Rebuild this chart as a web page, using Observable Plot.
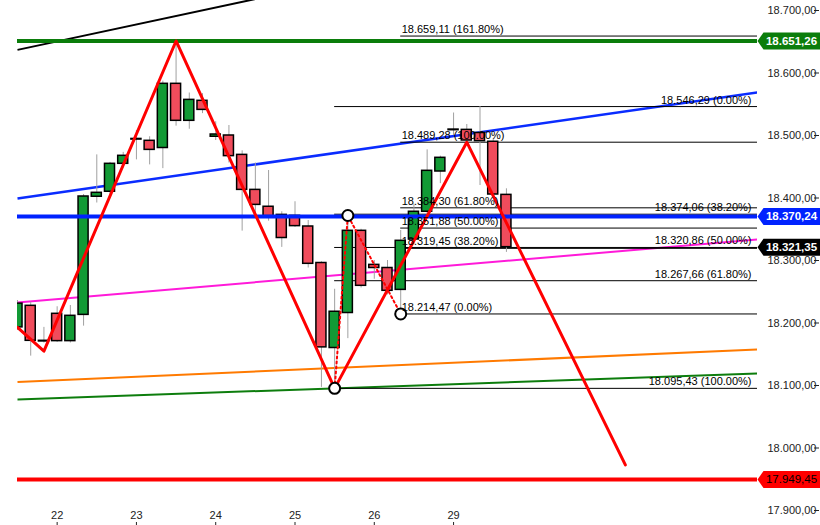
<!DOCTYPE html>
<html>
<head>
<meta charset="utf-8">
<script src="https://cdn.jsdelivr.net/npm/d3@7"></script>
<script src="https://cdn.jsdelivr.net/npm/@observablehq/plot@0.6"></script>
<style>
  html, body { margin: 0; padding: 0; background: #fff; }
  #chart { width: 820px; height: 525px; }
</style>
</head>
<body>
<div id="chart"></div>
<script>
// ---- candle data (4h candles, index-based) ----
const open  = [18193, 18227.5, 18171.5, 18214.7, 18171, 18213, 18402, 18410, 18454.7, 18493.5,
               18491.5, 18480, 18582.7, 18523.5, 18555.5, 18498, 18500, 18469, 18413, 18386,
               18373, 18371.5, 18354.4, 18296, 18160, 18216, 18347.5, 18293, 18288, 18253,
               18333.6, 18378, 18442.4, 18508.5, 18509, 18504, 18490, 18405];
const high  = [18236, 18233, 18193, 18226, 18228, 18405.6, 18469, 18457, 18473, 18508,
               18498, 18587, 18651.26, 18568, 18567, 18522, 18516, 18475.5, 18456, 18444,
               18378, 18394, 18364, 18298, 18254, 18372, 18350, 18300, 18300, 18348,
               18390, 18477, 18467, 18536, 18517.6, 18546.29, 18495, 18414.7];
const low   = [18188, 18147, 18168, 18169, 18168, 18195, 18392, 18406, 18448, 18461,
               18453, 18447, 18515, 18510, 18535, 18492, 18456, 18347, 18370, 18363,
               18321, 18353, 18288, 18097, 18095.43, 18175, 18256, 18270, 18245, 18214.47,
               18325, 18370, 18423, 18500, 18489.28, 18420, 18400, 18313];
const close = [18231, 18171.5, 18170.5, 18171, 18211.5, 18402.4, 18408.3, 18454.7, 18467.5, 18494.5,
               18477, 18582.7, 18523.5, 18557, 18541, 18501.6, 18467, 18413, 18389, 18371,
               18336, 18355, 18294.7, 18161, 18218, 18347.5, 18259.5, 18288, 18251.5, 18331.5,
               18378, 18443.5, 18464.3, 18509.5, 18492, 18491, 18405.6, 18321.35];

// ---- axes ----
const dayIdx = [3, 9, 15, 21, 27, 33];
const dayLabels = ["22", "23", "24", "25", "26", "29"];
const yTicks = [17900, 18000, 18100, 18200, 18300, 18400, 18500, 18600, 18700];
const xMax = 56;

// ---- zigzag ----
const zigIdx = [0, 2, 12, 24, 34, 46];
const zigVal = [18193, 18155, 18651.26, 18095.43, 18489.28, 17973];

// ---- ABC pattern (dotted + circles) ----
const abcIdx = [24, 25, 29];
const abcVal = [18095.43, 18372, 18214.47];

// ---- trend lines (value at left edge, value at right edge) ----
const trendColors = ["#000000", "#0a2cff", "#ff1ad9", "#ff7a00", "#0d7d0d"];
const trendStart  = [18637, 18399.2, 18232.8, 18105.6, 18077.6];
const trendEnd    = [18890, 18568.8, 18333.6, 18157.8, 18119.2];
const trendWidth  = [2, 2.5, 2, 2, 2];

// ---- horizontal levels ----
const levelValues = [18651.26, 18370.24, 17949.45];
const levelColors = ["#0b7d0b", "#0022ff", "#ff0000"];

// ---- price tags on the right ----
const tagValues = [18651.26, 18370.24, 18321.35, 17949.45];
const tagFills  = ["#0b7d0b", "#0022ff", "#000000", "#ff0000"];
const tagText   = ["#ffffff", "#ffffff", "#ffffff", "#000000"];

// ---- fibonacci ----
const leftFibStart = 29;
const leftFibValues = [18214.47, 18319.45, 18351.88, 18384.30, 18489.28, 18659.11];
const leftFibPcts   = [0, 38.2, 50, 61.8, 100, 161.8];
const rightFibStart = 24;
const rightFibValues = [18546.29, 18374.06, 18320.86, 18267.66, 18095.43];
const rightFibPcts   = [0, 38.2, 50, 61.8, 100];

const fmt = d3.formatLocale({decimal: ",", thousands: ".", grouping: [3], currency: ["", ""]}).format(",.2f");

const candles = open.map((o, i) => ({i, o, h: high[i], l: low[i], c: close[i]}));
const zig = zigIdx.map((x, k) => ({x, v: zigVal[k]}));
const abc = abcIdx.map((x, k) => ({x, v: abcVal[k]}));
const trends = trendColors.map((c, k) => ({c, a: trendStart[k], b: trendEnd[k], w: trendWidth[k]}));
const leftFib = leftFibValues.map((v, k) => ({v, t: `${fmt(v)} (${leftFibPcts[k].toFixed(2)}%)`}));
const rightFib = rightFibValues.map((v, k) => ({v, t: `${fmt(v)} (${rightFibPcts[k].toFixed(2)}%)`}));

const half = 0.38;
const greenBody = "#129a35", redBody = "#f04c5c";

const tagShape = {
  draw(ctx) {
    ctx.moveTo(0, 0);
    ctx.lineTo(6, -8.5);
    ctx.lineTo(64, -8.5);
    ctx.lineTo(64, 8.5);
    ctx.lineTo(6, 8.5);
    ctx.closePath();
  }
};

const marks = [];

// trend lines
trends.forEach(t => {
  marks.push(Plot.link([t], {x1: () => 0, x2: () => xMax, y1: "a", y2: "b", stroke: t.c, strokeWidth: t.w, clip: true}));
});

// fib lines
marks.push(Plot.ruleY(leftFib, {y: "v", x1: () => leftFibStart, x2: () => xMax, stroke: "#000", strokeWidth: 1}));
marks.push(Plot.ruleY(rightFib, {y: "v", x1: () => rightFibStart, x2: () => xMax, stroke: "#000", strokeWidth: 1}));

// wicks
marks.push(Plot.ruleX(candles, {x: "i", y1: "l", y2: "h", stroke: "#a0a0a0", strokeWidth: 1, clip: true}));
// bodies
marks.push(Plot.rect(candles, {
  x1: d => d.i - half, x2: d => d.i + half, y1: "o", y2: "c",
  fill: d => d.c >= d.o ? greenBody : redBody, stroke: "#000", strokeWidth: 1.5, clip: true
}));

// horizontal levels
levelValues.forEach((v, k) => {
  marks.push(Plot.ruleY([v], {stroke: levelColors[k], strokeWidth: 4}));
});

// zigzag
marks.push(Plot.line(zig, {x: "x", y: "v", stroke: "#ff0000", strokeWidth: 3, clip: true}));
// ABC dotted
marks.push(Plot.line(abc, {x: "x", y: "v", stroke: "#ff0000", strokeWidth: 2, strokeDasharray: "2,3"}));
marks.push(Plot.dot(abc, {x: "x", y: "v", r: 5.5, stroke: "#000", strokeWidth: 2, fill: "#fff"}));

// fib labels
marks.push(Plot.text(leftFib, {x: () => leftFibStart, y: "v", text: "t", textAnchor: "start", lineAnchor: "bottom", dx: 1, dy: -3, fill: "#000", fontSize: 11}));
marks.push(Plot.text(rightFib, {x: () => xMax, y: "v", text: "t", textAnchor: "end", lineAnchor: "bottom", dx: -6, dy: -3, fill: "#000", fontSize: 11}));

// axes
marks.push(Plot.axisY({anchor: "right", ticks: yTicks, tickSize: 0, tickPadding: 10, tickFormat: fmt, fontSize: 11, label: null}));
marks.push(Plot.axisY({anchor: "right", ticks: yTicks, tickSize: 5, tickFormat: () => "", dx: 56, label: null}));
marks.push(Plot.axisX({anchor: "bottom", ticks: dayIdx, tickSize: 0, tickPadding: 1, tickFormat: d => dayLabels[dayIdx.indexOf(d)], fontSize: 11, label: null}));
marks.push(Plot.axisX({anchor: "bottom", ticks: dayIdx, tickSize: 3, tickFormat: () => "", dy: 12, label: null}));

// price tags
tagValues.forEach((v, k) => {
  marks.push(Plot.dot([v], {x: () => xMax, y: d => d, symbol: tagShape, r: 5, fill: tagFills[k], stroke: null}));
  marks.push(Plot.text([v], {x: () => xMax, y: d => d, text: d => fmt(d), dx: 34, textAnchor: "middle", fill: tagText[k], fontSize: 11.5, fontWeight: k === 3 ? "normal" : "bold"}));
});

const chart = Plot.plot({
  width: 820,
  height: 525,
  marginLeft: 17,
  marginRight: 63,
  marginTop: 0,
  marginBottom: 15,
  x: {domain: [0, xMax], axis: null},
  y: {domain: [17900, 18716], axis: null},
  style: {fontFamily: "'Liberation Sans', Arial, sans-serif", fontSize: "11px", background: "#fff", color: "#222", overflow: "visible"},
  marks
});
document.getElementById("chart").appendChild(chart);
</script>
</body>
</html>
